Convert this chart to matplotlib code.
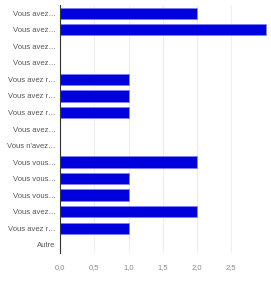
import matplotlib
matplotlib.use("Agg")
from matplotlib import pyplot as plt

plt.rcParams["font.family"] = ["Liberation Sans", "DejaVu Sans"]

### data ###
labels = ["Vous avez…", "Vous avez…", "Vous avez…", "Vous avez…",
          "Vous avez r…", "Vous avez r…", "Vous avez r…", "Vous avez…",
          "Vous n'avez…", "Vous vous…", "Vous vous…", "Vous vous…",
          "Vous avez…", "Vous avez r…", "Autre"]
counts = [2, 3, 0, 0, 1, 1, 1, 0, 0, 2, 1, 1, 2, 1, 0]
xticks = [0, 0.5, 1.0, 1.5, 2.0, 2.5]
xtick_labels = ["0,0", "0,5", "1,0", "1,5", "2,0", "2,5"]

fig = plt.figure(figsize=(2.71, 2.82), dpi=100)
ax = fig.add_axes([0.2214, 0.103, 0.766, 0.879])

pos = list(range(len(labels)))
ax.barh(pos, counts, height=0.68, color="#0000dd", edgecolor="#8080ff", linewidth=0.6, zorder=3)

ax.set_ylim(len(labels) - 0.5, -0.5)
ax.set_xlim(0, 3.03)
ax.set_yticks(pos)
ax.set_yticklabels(labels, fontsize=5.5, color="#555555")
ax.set_xticks(xticks)
ax.set_xticklabels(xtick_labels, fontsize=5.5, color="#888888")
ax.tick_params(length=0, pad=3)
ax.tick_params(axis="x", pad=8)

ax.grid(axis="x", color="#eeeeee", linewidth=0.8, zorder=0)
for side in ["top", "right", "bottom"]:
    ax.spines[side].set_visible(False)
ax.spines["left"].set_color("#333333")
ax.spines["left"].set_linewidth(0.8)
ax.spines["left"].set_zorder(4)

fig.savefig("out.png", dpi=100)
